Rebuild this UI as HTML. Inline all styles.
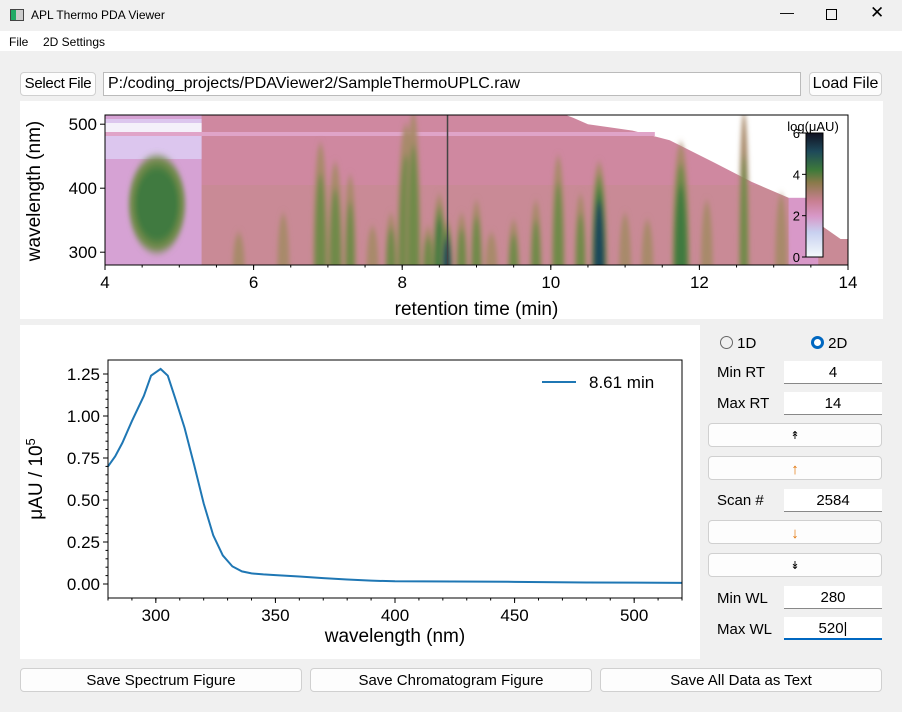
<!DOCTYPE html>
<html><head><meta charset="utf-8"><style>
body{margin:0;width:902px;height:712px;background:#f0f0f0;font-family:"Liberation Sans",sans-serif;position:relative;overflow:hidden}
.abs{position:absolute}
.btn{position:absolute;background:#fdfdfd;border:1px solid #d0d0d0;border-radius:4px;box-sizing:border-box;text-align:center;font-size:15px;color:#000;white-space:nowrap;overflow:hidden}
.inp{position:absolute;background:#fff;border-bottom:1px solid #888;box-sizing:border-box;text-align:center;font-size:15px}
.lbl{position:absolute;font-size:15px}
</style></head><body>
<div class="abs" style="left:0;top:0;width:902px;height:31px;background:#f0f0f0">
 <div class="abs" style="left:10px;top:9px;width:12px;height:10px;border:1px solid #444;background:linear-gradient(90deg,#2a6 0 40%,#ccc 40%)"></div>
 <div class="abs" style="left:31px;top:8px;font-size:12px">APL Thermo PDA Viewer</div>
 <div class="abs" style="left:780px;top:4px;font-size:14px">—</div>
 <div class="abs" style="left:826px;top:9px;width:9px;height:9px;border:1px solid #000"></div>
 <div class="abs" style="left:870px;top:3px;font-size:17px">✕</div>
</div>
<div class="abs" style="left:0;top:31px;width:902px;height:20px;background:#fff;font-size:12px">
 <span class="abs" style="left:9px;top:4px">File</span>
 <span class="abs" style="left:43px;top:4px">2D Settings</span>
</div>
<div class="btn" style="left:20px;top:72px;width:76px;height:24px;line-height:22px;font-size:15px;letter-spacing:-0.3px">Select File</div>
<div class="abs" style="left:103px;top:72px;width:698px;height:24px;background:#fff;border:1px solid #bbb;box-sizing:border-box;font-size:16px;line-height:22px;padding-left:4px">P:/coding_projects/PDAViewer2/SampleThermoUPLC.raw</div>
<div class="btn" style="left:809px;top:72px;width:73px;height:24px;line-height:22px;font-size:16px">Load File</div>

<svg class="abs" style="left:20px;top:101px" width="863" height="218" id="hm"></svg>
<svg class="abs" style="left:20px;top:325px" width="680" height="334" id="sp"></svg>

<div class="abs" style="left:720px;top:335px;font-size:15px"><span style="display:inline-block;width:11px;height:11px;border:1px solid #666;border-radius:50%;vertical-align:-1px"></span> 1D</div>
<div class="abs" style="left:811px;top:335px;font-size:15px"><span style="display:inline-block;width:7px;height:7px;border:3px solid #0067c0;border-radius:50%;vertical-align:-1px;background:#fff"></span> 2D</div>
<div class="lbl" style="left:717px;top:364px">Min RT</div>
<div class="inp" style="left:784px;top:361px;width:98px;height:23px;line-height:23px">4</div>
<div class="lbl" style="left:717px;top:395px">Max RT</div>
<div class="inp" style="left:784px;top:392px;width:98px;height:23px;line-height:23px">14</div>
<div class="btn" style="left:708px;top:423px;width:174px;height:24px;line-height:24px;font-size:11px">↟</div>
<div class="btn" style="left:708px;top:456px;width:174px;height:24px;line-height:26px;color:#e07000">↑</div>
<div class="lbl" style="left:717px;top:492px">Scan #</div>
<div class="inp" style="left:784px;top:489px;width:98px;height:23px;line-height:23px">2584</div>
<div class="btn" style="left:708px;top:520px;width:174px;height:24px;line-height:26px;color:#e07000">↓</div>
<div class="btn" style="left:708px;top:553px;width:174px;height:24px;line-height:24px;font-size:11px">↡</div>
<div class="lbl" style="left:717px;top:590px">Min WL</div>
<div class="inp" style="left:784px;top:586px;width:98px;height:23px;line-height:23px">280</div>
<div class="lbl" style="left:717px;top:621px">Max WL</div>
<div class="inp" style="left:784px;top:617px;width:98px;height:23px;line-height:23px;border-bottom:2px solid #0067c0">520|</div>

<div class="btn" style="left:20px;top:668px;width:282px;height:24px;line-height:23px">Save Spectrum Figure</div>
<div class="btn" style="left:310px;top:668px;width:282px;height:24px;line-height:23px">Save Chromatogram Figure</div>
<div class="btn" style="left:600px;top:668px;width:282px;height:24px;line-height:23px">Save All Data as Text</div>

<script>
const NS="http://www.w3.org/2000/svg";
function mk(p,t,a){const e=document.createElementNS(NS,t);for(const k in a)e.setAttribute(k,a[k]);p.appendChild(e);return e;}
// spectrum data
const wavelengths=[280,283,286,290,295,298,302,305,308,312,316,320,324,328,332,336,340,345,350,360,370,380,390,400,450,480,500,520];
const intensities=[0.70,0.76,0.84,0.97,1.12,1.24,1.28,1.24,1.11,0.93,0.71,0.48,0.29,0.17,0.105,0.075,0.063,0.057,0.053,0.045,0.035,0.027,0.02,0.016,0.013,0.009,0.008,0.007];
const xTicks=[300,350,400,450,500];
const yTicks=[0,0.25,0.5,0.75,1.0,1.25];
const yTickLabels=["0.00","0.25","0.50","0.75","1.00","1.25"];
const legendLabel="8.61 min";
// heatmap data
const rtTicks=[4,6,8,10,12,14];
const wlTicks=[300,400,500];
const cbTicks=[0,2,4,6];
const peakRT=[5.8,6.4,6.9,7.1,7.3,7.6,7.85,8.05,8.15,8.35,8.5,8.6,8.8,9.0,9.2,9.5,9.8,10.1,10.4,10.65,11.0,11.3,11.75,12.1,12.6,13.1];
const peakWLtop=[330,360,470,440,420,340,360,500,520,340,390,350,360,380,330,350,380,450,390,440,360,350,470,380,520,390];
const peakLevel=[2.2,2.6,3.3,3.3,3.0,2.7,3.3,3.6,3.6,3.4,4.6,5.3,3.2,3.5,2.8,3.0,3.0,3.4,3.2,5.7,2.8,2.8,4.4,2.6,3.0,2.6];
const peakWidth=[0.08,0.08,0.1,0.1,0.08,0.08,0.08,0.12,0.1,0.08,0.09,0.08,0.08,0.08,0.08,0.08,0.08,0.09,0.08,0.11,0.08,0.08,0.12,0.08,0.07,0.08];

(function(){
const s=document.getElementById('sp');
mk(s,'rect',{x:0,y:0,width:680,height:334,fill:'#fff'});
const L=88,R=662,T=35,B=273;
const X=v=>L+(v-280)/(520-280)*(R-L);
const Y=v=>259-v/1.25*210;
const g=mk(s,'g',{'font-family':'Liberation Sans, DejaVu Sans, sans-serif','font-size':'17'});
xTicks.forEach(t=>{mk(g,'line',{x1:X(t),x2:X(t),y1:B,y2:B+5,stroke:'#000'});const e=mk(g,'text',{x:X(t),y:B+23,'text-anchor':'middle'});e.textContent=t;});
for(let t=280;t<=520;t+=10){mk(g,'line',{x1:X(t),x2:X(t),y1:B,y2:B+2.5,stroke:'#000'});}
yTicks.forEach((t,i)=>{mk(g,'line',{x1:L,x2:L-5,y1:Y(t),y2:Y(t),stroke:'#000'});const e=mk(g,'text',{x:L-8,y:Y(t)+6,'text-anchor':'end'});e.textContent=yTickLabels[i];});
for(let t=0;t<=1.3;t+=0.05){mk(g,'line',{x1:L,x2:L-2.5,y1:Y(t),y2:Y(t),stroke:'#000'});}
const pl=mk(s,'polyline',{points:wavelengths.map((w,i)=>X(w)+','+Y(intensities[i])).join(' '),fill:'none',stroke:'#1f77b4','stroke-width':2});


mk(s,'rect',{x:L,y:T,width:R-L,height:B-T,fill:'none',stroke:'#000'});
mk(g,'line',{x1:522,x2:556,y1:57,y2:57,stroke:'#1f77b4','stroke-width':2});
const lt=mk(g,'text',{x:569,y:63});lt.textContent=legendLabel;


const xl=mk(g,'text',{x:(L+R)/2,y:317,'text-anchor':'middle','font-size':'19'});xl.textContent='wavelength (nm)';
const yl=mk(g,'text',{x:0,y:0,'text-anchor':'middle','font-size':'19',transform:'translate(22,154) rotate(-90)'});yl.innerHTML='μAU / 10<tspan dy="-7" font-size="13">5</tspan>';
})();

(function(){
const s=document.getElementById('hm');
mk(s,'rect',{x:0,y:0,width:863,height:218,fill:'#fff'});
const L=85,R=828,T=14,B=164;
const X=v=>L+(v-4)/10*(R-L);
const Y=v=>B-(v-280)*0.64;
const defs=mk(s,'defs',{});
const cp=mk(defs,'clipPath',{id:'clp'});mk(cp,'rect',{x:L,y:T,width:R-L,height:B-T});
const cb=mk(defs,'linearGradient',{id:'cbg',x1:0,y1:1,x2:0,y2:0});
[['0','#f4fafb'],['0.2','#c8d0f0'],['0.33','#d898c8'],['0.45','#c87f92'],['0.6','#8a7a4a'],['0.7','#3e7a3a'],['0.85','#1e4a5a'],['1','#111122']].forEach(c=>mk(cb,'stop',{offset:c[0],'stop-color':c[1]}));
const lv=['#d898c8','#c88a98','#a88a6a','#6f8a4a','#3f7a40','#1e4a5a','#111122'];
const bl=mk(defs,'filter',{id:'blr',x:'-50%',y:'-20%',width:'200%',height:'140%'});mk(bl,'feGaussianBlur',{stdDeviation:'2.5 4'});
const gr=mk(s,'g',{'clip-path':'url(#clp)'});
mk(gr,'rect',{x:L,y:T,width:R-L,height:B-T,fill:'#cf88a0'});
mk(gr,'rect',{x:X(5.3),y:T+70,width:R-X(5.3),height:B-T-70,fill:'#c98a96'});
mk(gr,'rect',{x:L,y:T,width:X(5.3)-L,height:B-T,fill:'#d6a2d4'});
mk(gr,'rect',{x:L,y:T+4,width:X(5.3)-L,height:40,fill:'#dcc6ee'});
mk(gr,'rect',{x:L,y:T+8,width:X(5.3)-L,height:10,fill:'#f4f0fa'});
mk(gr,'polygon',{points:[X(10.2),T,R,T,R,B-26,X(13.9),B-26,X(13.6),Y(345),X(13.2),Y(385),X(12.7),Y(410),X(12.2),Y(440),X(11.6),Y(475),X(11.1),Y(490),X(10.5),Y(500),X(10.3),Y(510)].join(' '),fill:'#fff'});
mk(gr,'rect',{x:L,y:T+17,width:X(11.4)-L,height:4,fill:'#e0a4c8'});
mk(gr,'rect',{x:X(13.2),y:Y(385),width:X(13.6)-X(13.2),height:B,fill:'#d898c8'});
// broad early peak
const pg=mk(gr,'g',{filter:'url(#blr)'});
[[3,28,48],[4,22,38]].forEach(a=>{const e=mk(pg,'ellipse',{cx:X(4.7),cy:Y(375),rx:a[1],ry:a[2],fill:lv[a[0]]});});
peakRT.forEach((rt,i)=>{
 const top=Y(peakWLtop[i]);const w=peakWidth[i]*(R-L)/10;
 const lev=peakLevel[i];
 for(let k=2;k<=Math.floor(lev);k++){
  const f=(k-2)/Math.max(lev-1,1);
  const e=mk(pg,'ellipse',{cx:X(rt),cy:B+5,rx:w*(1-f*0.5),ry:(B+5-top)*(1-f*0.55),fill:lv[k]});
  
  
 }
});
mk(gr,'line',{x1:X(8.61),x2:X(8.61),y1:T,y2:B,stroke:'#444','stroke-width':1.5});
mk(s,'rect',{x:L,y:T,width:R-L,height:B-T,fill:'none',stroke:'#000'});
const g=mk(s,'g',{'font-family':'Liberation Sans, DejaVu Sans, sans-serif','font-size':'17'});
rtTicks.forEach(t=>{mk(g,'line',{x1:X(t),x2:X(t),y1:B,y2:B+5,stroke:'#000'});const e=mk(g,'text',{x:X(t),y:B+23,'text-anchor':'middle'});e.textContent=t;});
for(let t=4;t<=14;t+=0.5)mk(g,'line',{x1:X(t),x2:X(t),y1:B,y2:B+2.5,stroke:'#000'});
wlTicks.forEach(t=>{mk(g,'line',{x1:L,x2:L-5,y1:Y(t),y2:Y(t),stroke:'#000'});const e=mk(g,'text',{x:L-8,y:Y(t)+6,'text-anchor':'end'});e.textContent=t;});
const xl=mk(g,'text',{x:(L+R)/2,y:214,'text-anchor':'middle','font-size':'19'});xl.textContent='retention time (min)';
const yl=mk(g,'text',{x:0,y:0,'text-anchor':'middle','font-size':'19',transform:'translate(20,90) rotate(-90)'});yl.textContent='wavelength (nm)';
const cx=786,ct=32,cbm=156;
mk(s,'rect',{x:cx,y:ct,width:17,height:cbm-ct,fill:'url(#cbg)',stroke:'#000'});
cbTicks.forEach(t=>{const y=cbm-t/6*(cbm-ct);mk(g,'line',{x1:cx,x2:cx-4,y1:y,y2:y,stroke:'#000'});const e=mk(g,'text',{x:cx-6,y:y+5,'text-anchor':'end','font-size':'13'});e.textContent=t;});
const ct2=mk(g,'text',{x:793,y:30,'text-anchor':'middle','font-size':'13'});ct2.textContent='log(μAU)';
})();
</script>
</body></html>
